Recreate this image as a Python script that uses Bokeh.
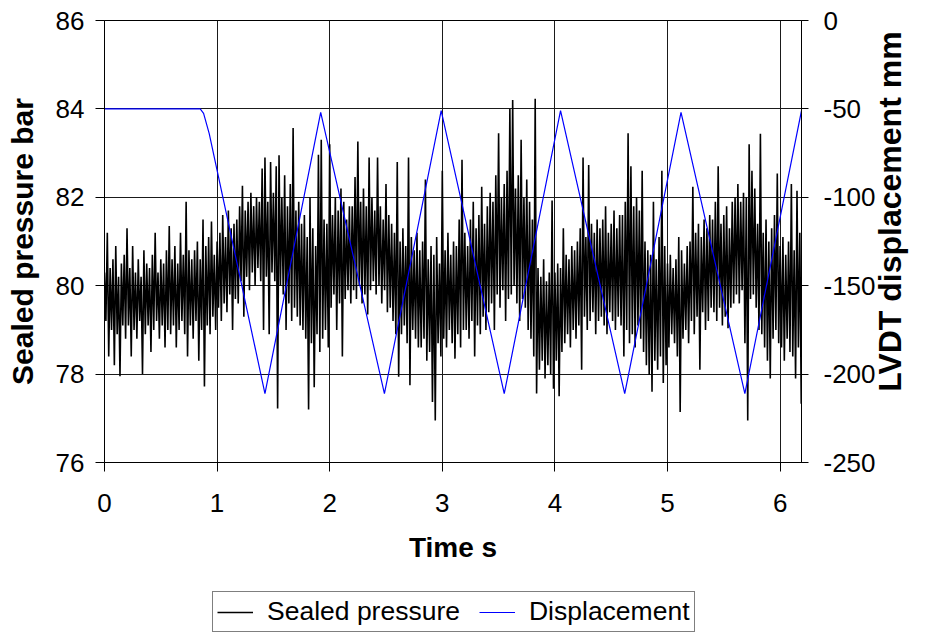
import numpy as np
from bokeh.plotting import figure
from bokeh.layouts import column
from bokeh.models import (Range1d, LinearAxis, Legend, LegendItem, FixedTicker)
from bokeh.embed import file_html
from bokeh.resources import INLINE

# Sealed pressure record: one (high, low) reading per 25 ms window, bar.
# Each row covers 0.2 s.
WINDOW_S = 0.025
pressure_high = [
    [80.3, 81.2, 80.4, 80.6, 80.9, 80.2, 80.5, 80.7],
    [81.3, 80.4, 80.9, 80.3, 80.6, 80.2, 80.8, 80.5],
    [80.4, 80.7, 81.2, 80.3, 80.6, 80.5, 80.8, 81.35],
    [80.6, 80.9, 80.5, 81.2, 80.7, 81.9, 80.8, 80.6],
    [80.8, 81.0, 80.6, 81.5, 80.9, 81.1, 81.45, 80.7],
    [81.0, 81.2, 81.6, 81.1, 81.7, 81.3, 81.4, 81.5],
    [81.8, 82.26, 81.7, 81.9, 82.1, 81.8, 82.0, 81.9],
    [82.65, 82.9, 81.9, 82.8, 82.1, 82.7, 82.95, 82.0],
    [82.5, 81.8, 82.3, 83.57, 81.7, 81.9, 81.4, 81.6],
    [81.1, 82.0, 81.3, 80.9, 82.96, 83.3, 81.5, 81.4],
    [83.2, 81.6, 82.0, 81.7, 82.2, 81.9, 81.5, 81.8],
    [81.8, 82.46, 83.26, 81.9, 82.2, 81.8, 82.9, 82.0],
    [81.7, 82.9, 81.8, 81.5, 82.3, 81.6, 81.4, 81.2],
    [82.8, 81.0, 81.3, 80.9, 82.9, 81.1, 80.8, 81.2],
    [80.8, 81.0, 82.4, 80.6, 80.9, 80.7, 81.1, 80.5],
    [82.6, 80.8, 81.2, 80.7, 81.0, 80.9, 81.5, 82.85],
    [81.2, 80.9, 81.5, 81.9, 81.3, 81.6, 82.24, 81.4],
    [81.8, 82.1, 81.9, 82.5, 83.45, 82.0, 82.3, 82.6],
    [84.0, 84.2, 82.2, 82.5, 83.3, 82.0, 82.4, 81.9],
    [81.5, 84.23, 80.4, 80.2, 80.6, 80.1, 80.3, 81.93],
    [80.3, 80.5, 80.4, 81.3, 80.7, 80.6, 80.9, 80.8],
    [81.0, 81.3, 82.9, 81.1, 82.73, 81.4, 81.2, 81.5],
    [81.3, 81.5, 81.8, 81.2, 81.4, 81.7, 81.3, 81.6],
    [81.6, 81.9, 83.45, 82.7, 81.8, 82.0, 81.7, 82.6],
    [81.0, 80.8, 80.7, 81.9, 80.6, 81.1, 82.6, 80.9],
    [80.5, 80.7, 80.4, 80.6, 81.1, 80.8, 80.5, 80.9],
    [81.0, 82.24, 81.2, 81.4, 81.1, 81.5, 81.3, 81.6],
    [81.5, 81.9, 82.7, 81.4, 81.6, 81.8, 81.3, 81.9],
    [82.0, 82.3, 81.9, 82.1, 82.0, 83.2, 82.6, 82.2],
    [81.4, 83.44, 81.2, 81.5, 81.0, 81.3, 81.6, 82.54],
    [80.9, 81.1, 80.7, 81.0, 82.3, 80.8, 82.15, 81.2],
]
pressure_low = [
    [79.2, 78.4, 79.0, 78.2, 78.9, 77.95, 79.1, 78.8],
    [79.1, 78.4, 79.0, 78.8, 79.2, 78.0, 78.9, 79.1],
    [78.5, 79.0, 79.2, 78.8, 79.1, 78.6, 79.0, 78.9],
    [79.1, 78.6, 79.0, 79.2, 78.9, 78.4, 79.1, 78.8],
    [79.2, 78.3, 79.0, 77.72, 79.1, 78.9, 79.3, 79.0],
    [79.5, 79.2, 79.6, 79.4, 79.8, 79.0, 79.7, 79.6],
    [80.1, 79.3, 80.2, 79.9, 80.3, 80.0, 80.4, 80.1],
    [79.0, 80.2, 78.9, 80.3, 80.1, 77.22, 80.0, 79.8],
    [79.0, 79.6, 79.2, 79.5, 79.3, 79.1, 79.0, 78.8],
    [77.2, 78.7, 77.7, 78.9, 78.5, 78.8, 79.0, 78.6],
    [79.5, 79.8, 79.0, 79.6, 78.4, 79.7, 79.9, 79.6],
    [79.9, 79.7, 80.0, 79.6, 79.8, 79.35, 79.9, 80.1],
    [79.8, 80.0, 79.6, 79.9, 79.4, 79.5, 79.2, 78.9],
    [77.94, 78.9, 79.1, 78.7, 77.75, 79.0, 78.8, 78.6],
    [78.6, 78.8, 78.3, 78.5, 77.37, 76.95, 78.7, 78.4],
    [78.8, 78.6, 79.0, 78.7, 78.35, 78.9, 78.6, 79.0],
    [79.0, 78.8, 79.2, 78.4, 79.1, 78.9, 79.3, 79.0],
    [79.4, 79.6, 79.0, 79.8, 79.5, 79.9, 79.2, 79.7],
    [79.8, 80.0, 79.6, 79.2, 79.7, 79.5, 79.0, 78.8],
    [78.4, 77.56, 78.1, 78.3, 77.9, 78.2, 78.0, 77.67],
    [78.3, 77.5, 78.5, 78.7, 78.9, 78.6, 79.0, 78.8],
    [79.1, 78.1, 79.3, 79.0, 79.2, 79.4, 78.9, 79.2],
    [79.3, 79.1, 78.9, 79.4, 79.2, 79.0, 79.3, 79.1],
    [78.4, 79.0, 78.7, 78.9, 78.6, 79.1, 78.8, 78.5],
    [78.2, 77.98, 77.6, 78.3, 78.1, 78.4, 77.8, 78.2],
    [78.6, 78.9, 78.7, 78.4, 77.14, 78.8, 79.0, 78.7],
    [79.2, 78.9, 79.3, 78.1, 79.4, 79.0, 79.2, 79.5],
    [79.4, 79.2, 79.5, 79.1, 79.3, 79.04, 79.5, 79.6],
    [79.8, 79.6, 79.9, 78.7, 76.95, 79.7, 79.8, 79.5],
    [79.0, 78.9, 78.6, 78.3, 77.9, 78.8, 79.0, 78.7],
    [78.6, 78.3, 78.8, 78.5, 78.4, 77.9, 78.6, 77.33],
]

# LVDT displacement: turning points of the stroke, time s / displacement mm
disp_time = [0.0, 0.85, 0.88, 0.93, 1.425, 1.92, 2.486, 2.99, 3.55, 4.05,
             4.62, 5.12, 5.687, 6.19]
disp_mm = [-50, -50, -52.5, -64, -211, -52, -211, -51, -211, -51,
           -211, -52, -211, -51]

x_ticks = [0, 1, 2, 3, 4, 5, 6]
p_ticks = [76, 78, 80, 82, 84, 86]
d_ticks = [-250, -200, -150, -100, -50, 0]

# interleave highs and lows into one trace
hi = np.array(pressure_high, dtype=float).ravel()
lo = np.array(pressure_low, dtype=float).ravel()
n = hi.size
t = np.empty(2 * n)
t[0::2] = np.arange(n) * WINDOW_S
t[1::2] = t[0::2] + WINDOW_S / 2
pr = np.empty(2 * n)
pr[0::2] = hi
pr[1::2] = lo

FONT = "Liberation Sans"
PRESSURE_COLOR = "black"
DISP_COLOR = "#0000ff"

p = figure(width=929, height=583, output_backend="svg", toolbar_location=None,
           x_range=Range1d(0, 6.19), y_range=Range1d(76, 86),
           min_border_left=104, min_border_right=123, min_border_top=20,
           min_border_bottom=121, background_fill_color="white",
           border_fill_color="white", outline_line_color="black",
           outline_line_width=1)
p.extra_y_ranges = {"disp": Range1d(-250, 0)}

grid_color = "#1a1a1a"
p.xgrid.ticker = FixedTicker(ticks=[1, 2, 3, 4, 5, 6])
p.ygrid.ticker = FixedTicker(ticks=[78, 80, 82, 84])
for g in (p.xgrid, p.ygrid):
    g.grid_line_color = grid_color
    g.grid_line_width = 1

p.line(t, pr, line_color=PRESSURE_COLOR, line_width=1.6)
p.line(disp_time, disp_mm, line_color=DISP_COLOR, line_width=1.2,
       y_range_name="disp")

right = LinearAxis(y_range_name="disp")
p.add_layout(right, "right")

# right-hand title: a tick-less axis whose one label reads bottom to top,
# starting level with the lower end of the displacement stroke
TITLE_START = -210
right_title = LinearAxis(y_range_name="disp",
                         ticker=FixedTicker(ticks=[TITLE_START]),
                         major_label_overrides={TITLE_START: "LVDT displacement mm"},
                         major_label_orientation=np.pi / 2,
                         axis_line_color=None, major_tick_line_color=None,
                         minor_tick_line_color=None, major_tick_out=0,
                         major_tick_in=0, major_label_standoff=12,
                         major_label_text_font=FONT,
                         major_label_text_font_size="32px",
                         major_label_text_font_style="bold",
                         major_label_text_color="black")
p.add_layout(right_title, "right")

p.xaxis.ticker = FixedTicker(ticks=x_ticks)
p.yaxis[0].ticker = FixedTicker(ticks=p_ticks)
right.ticker = FixedTicker(ticks=d_ticks)
right.major_label_overrides = {v: str(v) for v in d_ticks}

p.xaxis.axis_label = "Time s"
p.yaxis[0].axis_label = "Sealed pressure bar"

for ax in (p.xaxis[0], p.yaxis[0], right):
    ax.axis_line_color = "black"
    ax.major_tick_line_color = "black"
    ax.minor_tick_line_color = None
    ax.major_tick_in = 0
    ax.major_label_text_font = FONT
    ax.major_label_text_font_size = "26px"
    ax.major_label_text_color = "black"
    ax.axis_label_text_font = FONT
    ax.axis_label_text_font_style = "bold"
    ax.axis_label_text_color = "black"

p.xaxis.axis_label_text_font_size = "28px"
p.yaxis[0].axis_label_text_font_size = "30px"

p.xaxis.major_tick_out = 9
p.xaxis.major_label_standoff = 22
p.xaxis.axis_label_standoff = 17
p.yaxis[0].major_tick_out = 9
p.yaxis[0].major_label_standoff = 11
p.yaxis[0].axis_label_standoff = 14
right.major_tick_out = 7
right.major_label_standoff = 15

# legend strip under the chart, keyed with the same line styles
key = figure(width=929, height=50, output_backend="svg", toolbar_location=None,
             x_range=Range1d(0, 1), y_range=Range1d(0, 1),
             x_axis_type=None, y_axis_type=None, min_border=0,
             outline_line_color=None, background_fill_color="white",
             border_fill_color="white")
key.grid.visible = False
# the key lines sit outside the strip's range, only their legend swatches show
k_p = key.line([2, 3], [2, 3], line_color=PRESSURE_COLOR, line_width=1.4)
k_d = key.line([2, 3], [2, 3], line_color=DISP_COLOR, line_width=1.2)
legend = Legend(items=[LegendItem(label="Sealed pressure", renderers=[k_p]),
                       LegendItem(label="Displacement", renderers=[k_d])],
                orientation="horizontal", location=(108, 1),
                label_text_font=FONT, label_text_font_size="26.5px",
                label_text_color="black", glyph_width=36, label_standoff=14,
                spacing=19, padding=4, margin=0, border_line_color="black",
                border_line_width=1, background_fill_color="white",
                background_fill_alpha=1.0)
key.add_layout(legend, "center")

open("out.html", "w").write(file_html(column(p, key, spacing=0), INLINE))
